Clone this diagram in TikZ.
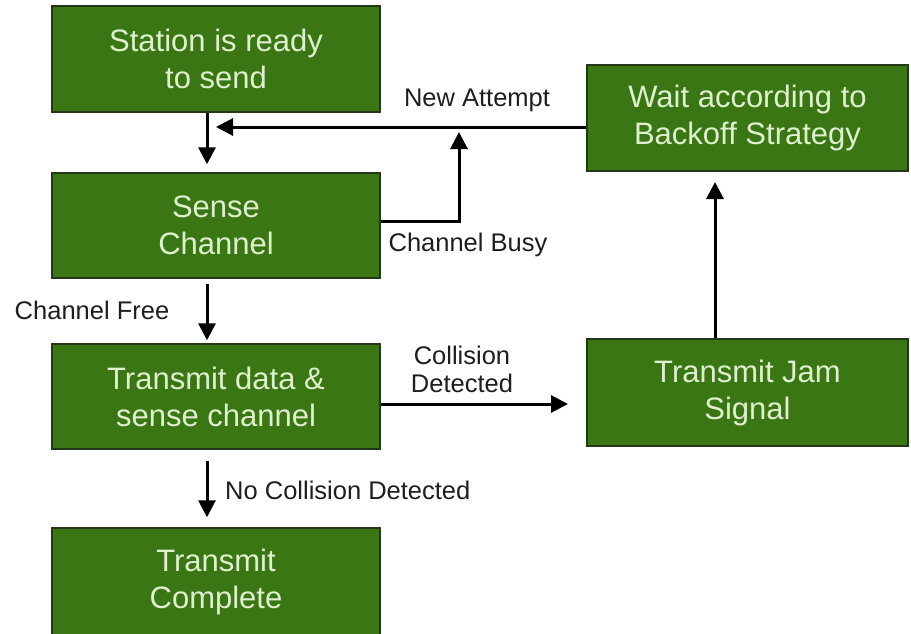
\documentclass[tikz,border=0pt]{standalone}
\usepackage{fontspec}
\setmainfont{Liberation Sans}
\usetikzlibrary{arrows.meta}
\definecolor{boxgreen}{RGB}{58,118,20}
\definecolor{boxedge}{RGB}{35,55,25}
\definecolor{boxtext}{RGB}{222,240,205}
\definecolor{labeltext}{RGB}{30,30,30}
\tikzset{
  stage/.style={rectangle, fill=boxgreen, draw=boxedge, line width=1.5pt,
    text=boxtext, align=center, inner sep=0pt,
    font=\fontsize{31}{37}\selectfont},
  arr/.style={line width=3pt, -{Triangle[length=17pt,width=17pt]}},
  lbl/.style={text=labeltext, align=center, inner sep=0pt,
    font=\fontsize{25.5}{28}\selectfont}
}
\begin{document}
\begin{tikzpicture}[x=1pt,y=-1pt]
  \useasboundingbox (0,0) rectangle (911,633);
  \node[stage, minimum width=328pt, minimum height=106pt] (ready) at (216,59) {Station is ready\\to send};
  \node[stage, minimum width=328pt, minimum height=105pt] (sense) at (216,225.5) {Sense\\Channel};
  \node[stage, minimum width=328pt, minimum height=105pt] (xmit) at (216,396.5) {Transmit data \&\\sense channel};
  \node[stage, minimum width=328pt, minimum height=108pt] (done) at (216,582) {Transmit\\Complete};
  \node[stage, minimum width=321pt, minimum height=106pt] (wait) at (747.5,118) {Wait according to\\Backoff Strategy};
  \node[stage, minimum width=321pt, minimum height=107pt] (jam) at (747.5,392.5) {Transmit Jam\\Signal};

  \coordinate (spine) at (207,0);
  \coordinate (retry) at (216,127);
  \coordinate (busy) at (459,132);
  \coordinate (coll) at (568,404);
  \coordinate (back) at (715,182);

  \draw[arr, shorten >=8pt] (ready.south -| spine) -- (sense.north -| spine);
  \draw[arr] (wait.west |- retry) -- (retry);
  \draw[arr] (sense.east |- 0,221) -| (busy);
  \draw[arr, shorten <=5pt, shorten >=3pt] (sense.south -| spine) -- (xmit.north -| spine);
  \draw[arr] (xmit.east |- coll) -- (coll);
  \draw[arr, shorten <=11pt, shorten >=10pt] (xmit.south -| spine) -- (done.north -| spine);
  \draw[arr] (jam.north -| back) -- (back);

  \node[lbl] (attempt) at (477,100) {New Attempt};
  \node[lbl] (busylbl) at (468,245) {Channel Busy};
  \node[lbl] (freelbl) at (92,310) {Channel Free};
  \node[lbl] (colllbl) at (462,369) {Collision\\Detected};
  \node[lbl, anchor=west] (nocoll) at (225,490) {No Collision Detected};
\end{tikzpicture}
\end{document}
